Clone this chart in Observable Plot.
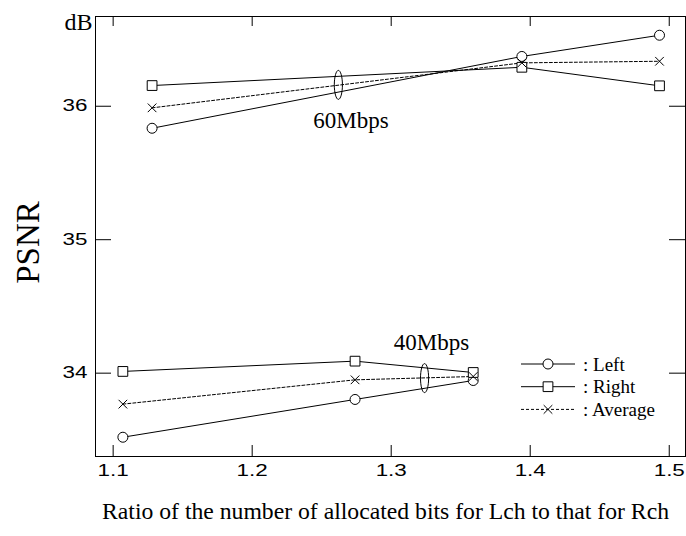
<!DOCTYPE html>
<html>
<head>
<meta charset="utf-8">
<script src="https://cdn.jsdelivr.net/npm/d3@7"></script>
<script src="https://cdn.jsdelivr.net/npm/@observablehq/plot@0.6"></script>
<style>
  body { margin: 0; background: #fff; }
  #chart { width: 686px; height: 536px; }
</style>
</head>
<body>
<div id="chart"></div>
<script>
// ---- data ----
const groups = ["60Mbps", "40Mbps"];
const seriesNames = ["Left", "Right", "Average"];

const ratio60 = [1.128, 1.394, 1.493];
const left60 = [35.835, 36.373, 36.532];
const right60 = [36.155, 36.292, 36.153];
const average60 = [35.988, 36.325, 36.337];

const ratio40 = [1.107, 1.274, 1.359];
const left40 = [33.52, 33.803, 33.945];
const right40 = [34.013, 34.09, 34.005];
const average40 = [33.768, 33.95, 33.975];

const xTicks = [1.1, 1.2, 1.3, 1.4, 1.5];
const yTicks = [34, 35, 36];
const xDomain = [1.0873, 1.5117];
const yDomain = [33.3756, 36.6724];

// group annotations (label text + ellipse)
const labelRatio = [1.271, 1.329];
const labelPSNR = [35.893, 34.226];
const ellipseRatio = [1.262, 1.324];
const ellipsePSNR = [36.16, 33.963];

// ---- build rows ----
const seriesByGroup = {
  "60Mbps": {x: ratio60, Left: left60, Right: right60, Average: average60},
  "40Mbps": {x: ratio40, Left: left40, Right: right40, Average: average40}
};
const rows = [];
for (const g of groups) {
  const s = seriesByGroup[g];
  for (const name of seriesNames) {
    s.x.forEach((x, i) => rows.push({group: g, series: name, x, y: s[name][i]}));
  }
}
const labels = groups.map((g, i) => ({text: g, x: labelRatio[i], y: labelPSNR[i]}));
const ellipses = groups.map((g, i) => ({x: ellipseRatio[i], y: ellipsePSNR[i]}));

const symbolFor = {Left: "circle", Right: "square", Average: "times"};
const rFor = {Left: 5, Right: 5.5, Average: 4};

// tall narrow ellipse symbol
const ellipseSymbol = {
  draw(ctx, size) {
    const ry = Math.sqrt(size / Math.PI), rx = ry * 0.28, k = 0.5523;
    ctx.moveTo(rx, 0);
    ctx.bezierCurveTo(rx, k * ry, k * rx, ry, 0, ry);
    ctx.bezierCurveTo(-k * rx, ry, -rx, k * ry, -rx, 0);
    ctx.bezierCurveTo(-rx, -k * ry, -k * rx, -ry, 0, -ry);
    ctx.bezierCurveTo(k * rx, -ry, rx, -k * ry, rx, 0);
    ctx.closePath();
  }
};

const W = 686, H = 536, mL = 95, mR = 1, mT = 16, mB = 80;
const innerW = W - mL - mR, innerH = H - mT - mB;
const serif = "Liberation Serif, Times New Roman, serif";

const solid = rows.filter(d => d.series !== "Average");
const dashed = rows.filter(d => d.series === "Average");

const svg = Plot.plot({
  width: W, height: H,
  marginLeft: mL, marginRight: mR, marginTop: mT, marginBottom: mB,
  style: {fontFamily: "Liberation Sans, Arial, sans-serif", fontSize: "16px", background: "#fff", color: "#000"},
  x: {domain: xDomain, ticks: xTicks, tickFormat: d3.format(".1f")},
  y: {domain: yDomain, ticks: yTicks, tickFormat: d3.format("d")},
  marks: [
    Plot.frame({stroke: "#000"}),
    // inward ticks on all four sides
    Plot.ruleX(xTicks, {x: d => d, insetTop: innerH - 11, stroke: "#000"}),
    Plot.ruleX(xTicks, {x: d => d, insetBottom: innerH - 10, stroke: "#000"}),
    Plot.ruleY(yTicks, {y: d => d, insetRight: innerW - 16, stroke: "#000"}),
    Plot.ruleY(yTicks, {y: d => d, insetLeft: innerW - 16, stroke: "#000"}),
    Plot.axisX({ticks: xTicks, tickSize: 0, tickPadding: 8, label: null, tickFormat: d3.format(".1f")}),
    Plot.axisY({ticks: yTicks, tickSize: 0, tickPadding: 8, label: null, tickFormat: d3.format("d")}),
    // series lines
    Plot.line(solid, {x: "x", y: "y", z: d => d.group + d.series, stroke: "#000", strokeWidth: 1}),
    Plot.line(dashed, {x: "x", y: "y", z: "group", stroke: "#000", strokeWidth: 1, strokeDasharray: "3,2"}),
    // markers
    ...seriesNames.map(name => Plot.dot(rows.filter(d => d.series === name), {
      x: "x", y: "y", symbol: symbolFor[name], r: rFor[name],
      stroke: "#000", strokeWidth: 1, fill: name === "Average" ? "none" : "#fff"
    })),
    // group ellipses
    Plot.dot(ellipses, {x: "x", y: "y", symbol: ellipseSymbol, r: 14.5, stroke: "#000", fill: "none", strokeWidth: 1}),
    // group labels
    Plot.text(labels, {x: "x", y: "y", text: "text", fontFamily: serif, fontSize: 23, fill: "#000"}),
    // unit label
    Plot.text(["dB"], {frameAnchor: "top-left", text: d => d, textAnchor: "end", lineAnchor: "middle", dx: -3, dy: 6, fontFamily: serif, fontSize: 24, fill: "#000"}),
    // axis titles
    Plot.text(["PSNR"], {frameAnchor: "left", text: d => d, textAnchor: "middle", lineAnchor: "middle", rotate: -90, dx: -67, dy: 6, fontFamily: serif, fontSize: 33, fill: "#000"}),
    Plot.text(["Ratio of the number of allocated bits for Lch to that for Rch"], {frameAnchor: "bottom", text: d => d, textAnchor: "middle", lineAnchor: "middle", dx: -5, dy: 55, fontFamily: serif, fontSize: 23.7, fill: "#000"})
  ]
});

// stretch tick labels horizontally (wide sans face in the reference)
d3.select(svg).selectAll('g[aria-label="x-axis tick label"] text, g[aria-label="y-axis tick label"] text')
  .each(function () {
    const t = this.getAttribute("transform");
    if (t) this.setAttribute("transform", t + " scale(1.4,1)");
    else {
      const x = +this.getAttribute("x") || 0, y = +this.getAttribute("y") || 0;
      this.removeAttribute("x"); this.removeAttribute("y");
      this.setAttribute("transform", `translate(${x},${y}) scale(1.4,1)`);
    }
  });

// legend inside the frame
const lg = d3.select(svg).append("g").attr("aria-label", "legend");
seriesNames.forEach((name, i) => {
  const cy = 364 + i * 22.7;
  lg.append("line").attr("x1", 521).attr("x2", 575).attr("y1", cy).attr("y2", cy)
    .attr("stroke", "#000").attr("stroke-width", 1)
    .attr("stroke-dasharray", name === "Average" ? "3,2" : null);
  const sym = {circle: d3.symbolCircle, square: d3.symbolSquare, times: d3.symbolTimes}[symbolFor[name]];
  lg.append("path").attr("d", d3.symbol(sym, Math.PI * rFor[name] * rFor[name])())
    .attr("transform", `translate(548,${cy})`)
    .attr("stroke", "#000").attr("fill", name === "Average" ? "none" : "#fff");
  lg.append("text").attr("x", 583).attr("y", cy).attr("dy", "0.35em")
    .attr("text-anchor", "start")
    .attr("font-family", serif).attr("font-size", 19).attr("fill", "#000")
    .text(": " + name);
});

document.getElementById("chart").appendChild(svg);
</script>
</body>
</html>
